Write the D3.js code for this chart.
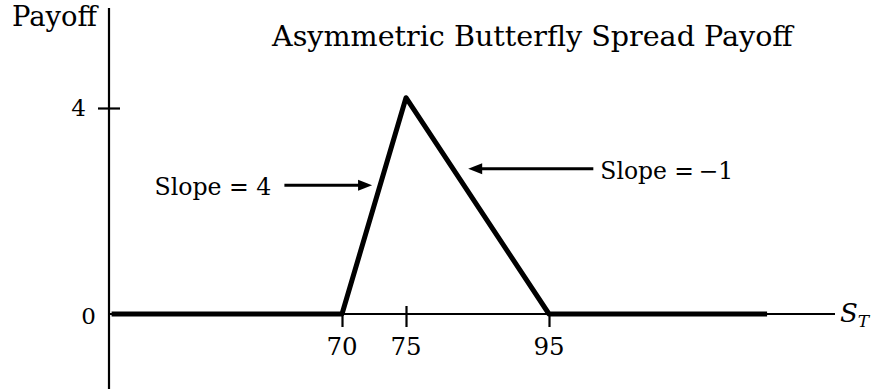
<!DOCTYPE html>
<html><head><meta charset="utf-8">
<script src="https://cdn.jsdelivr.net/npm/d3@7"></script>
<style>html,body{margin:0;padding:0;background:#fff;}svg{display:block;}</style>
</head><body>
<svg id="c" width="877" height="389"></svg>
<script>
// ---- data ----
const strikes = [70, 75, 95];
const xTickLabels = ["70", "75", "95"];
const payoffS = [52, 70, 75, 95, 125.5];
const payoffV = [0, 0, 4.2, 0, 0];
const yTicks = [0, 4];
const yTickLabels = ["0", "4"];
const title = "Asymmetric Butterfly Spread Payoff";
const yLabel = "Payoff";
const annoText = ["Slope = 4", "Slope =\u2009\u22121"];
const annoTipS = [72.35, 83.7];
const annoTipV = [2.5, 2.82];
const annoTailS = [65.5, 101.2];

// ---- layout ----
const svg = d3.select("#c");
const font = "'DejaVu Serif', serif";
const x = d3.scaleLinear().domain(strikes).range([342, 406, 549]);
const y = d3.scaleLinear().domain([0, 4]).range([314, 108]);
const xAxisEnd = 135, yTop = 5.94, yBot = -1.46;
const yLabRight = [96, 86];
const yLabDy = [10, 8];

// fit a text element's width to a target
function fit(sel, target) {
  const w = sel.node().getComputedTextLength();
  const fs = parseFloat(sel.attr("font-size"));
  sel.attr("font-size", fs * target / w);
}

// y axis
svg.append("line").attr("x1", 109).attr("x2", 109)
  .attr("y1", y(yTop)).attr("y2", y(yBot))
  .attr("stroke", "#000").attr("stroke-width", 2.2);
// x axis thin
svg.append("line").attr("x1", 109).attr("x2", x(xAxisEnd))
  .attr("y1", y(0)).attr("y2", y(0))
  .attr("stroke", "#000").attr("stroke-width", 2);

// y ticks
const yt = svg.append("g").attr("transform", "translate(109,0)")
  .call(d3.axisLeft(y).tickValues([4]).tickSize(11).tickFormat(""));
yt.select(".domain").remove();
yt.selectAll("line").attr("x2", -11).attr("x1", 11).attr("stroke", "#000").attr("stroke-width", 2.2);
svg.selectAll(".ylab").data(yTicks).join("text")
  .attr("x", (d, i) => yLabRight[i]).attr("y", (d, i) => y(d) + yLabDy[i])
  .attr("text-anchor", "end").attr("font-family", font).attr("font-size", 23)
  .text((d, i) => yTickLabels[i]);

// x ticks
const xt = svg.append("g").attr("transform", `translate(0,${y(0)})`)
  .call(d3.axisBottom(x).tickValues(strikes).tickSize(13).tickFormat(""));
xt.select(".domain").remove();
xt.selectAll("line").attr("stroke", "#000").attr("stroke-width", 2.2)
  .attr("y1", (d) => d === 75 ? -8 : 0);
svg.selectAll(".xlab").data(strikes).join("text")
  .attr("x", d => x(d)).attr("y", y(0) + 41)
  .attr("text-anchor", "middle").attr("font-family", font).attr("font-size", 24.5)
  .text((d, i) => xTickLabels[i]);

// payoff line
const pts = payoffS.map((s, i) => [x(s), y(payoffV[i])]);
svg.append("path").attr("d", d3.line()(pts))
  .attr("fill", "none").attr("stroke", "#000").attr("stroke-width", 5)
  .attr("stroke-linejoin", "round").attr("stroke-linecap", "butt");

// annotations
const annoW = [117, 133];
annoText.forEach((t, i) => {
  const tx = x(annoTipS[i]), ty = y(annoTipV[i]);
  const sx = x(annoTailS[i]);
  const dir = Math.sign(tx - sx);
  svg.append("line").attr("x1", sx).attr("x2", tx - dir * 10).attr("y1", ty).attr("y2", ty)
    .attr("stroke", "#000").attr("stroke-width", 3);
  svg.append("path").attr("d", d3.line()([[tx, ty], [tx - dir * 14, ty - 5.5], [tx - dir * 14, ty + 5.5]]) + "Z")
    .attr("fill", "#000");
  const lbl = svg.append("text").attr("y", ty + 10).attr("font-family", font).attr("font-size", 23).text(t);
  fit(lbl, annoW[i]);
  if (dir > 0) lbl.attr("x", sx - 13).attr("text-anchor", "end");
  else lbl.attr("x", sx + 7).attr("text-anchor", "start");
});

// title
const tt = svg.append("text").attr("x", 272).attr("y", 46)
  .attr("font-family", font).attr("font-size", 24).text(title);
fit(tt, 521);
// y label
const yl = svg.append("text").attr("x", 12).attr("y", 26)
  .attr("font-family", font).attr("font-size", 24).text(yLabel);
fit(yl, 85);
// x label S_T
const st = svg.append("text").attr("x", 840).attr("y", 322)
  .attr("font-family", font).attr("font-size", 26).attr("font-style", "italic");
st.append("tspan").text("S");
st.append("tspan").attr("dy", 5).attr("font-size", 17).text("T");
</script>
</body></html>
